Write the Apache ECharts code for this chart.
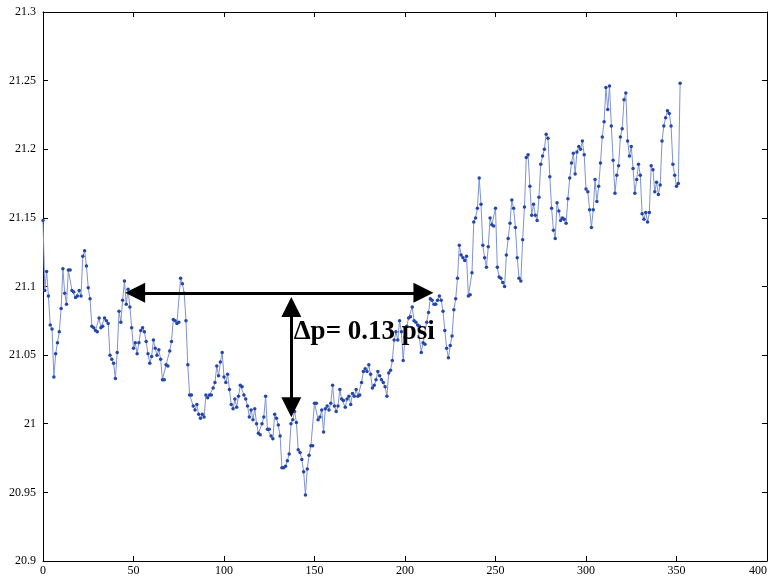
<!DOCTYPE html>
<html>
<head>
<meta charset="utf-8">
<script src="https://cdn.jsdelivr.net/npm/echarts@6/dist/echarts.min.js"></script>
<style>html,body{margin:0;padding:0;background:#fff;}#c{width:774px;height:581px;}</style>
</head>
<body>
<div id="c"></div>
<script>
// Pressure readings (psi), one per sample index starting at 0
var pressure = [
21.148,21.097,21.111,21.093,21.072,21.069,21.034,21.051,21.059,21.067,21.084,21.113,21.095,21.087,21.112,21.112,21.097,21.096,21.092,21.093,21.097,21.093,21.122,21.126,21.115,21.099,21.091,21.071,21.070,21.068,21.067,21.077,21.070,21.071,21.077,21.075,21.073,21.050,21.047,21.044,21.033,21.052,21.082,
21.074,21.090,21.104,21.087,21.098,21.085,21.070,21.055,21.059,21.051,21.059,21.068,21.070,21.067,21.060,21.051,21.044,21.049,21.061,21.055,21.050,21.054,21.047,21.032,21.032,21.043,21.042,21.053,21.060,21.076,21.075,21.073,21.074,21.106,21.102,21.095,21.075,21.043,
21.021,21.021,21.013,21.010,21.014,21.007,21.004,21.007,21.005,21.021,21.019,21.021,21.021,21.026,21.030,21.042,21.035,21.045,21.052,21.034,21.030,21.036,21.025,21.014,21.011,21.018,21.012,21.020,21.028,21.027,21.021,21.018,21.013,21.005,21.010,21.003,21.011,21.000,20.993,20.992,21.000,21.005,
21.020,20.996,
20.996,20.991,20.989,21.007,21.004,20.999,20.991,20.968,20.968,20.969,20.973,20.978,21.000,21.003,21.009,21.001,20.981,20.979,20.974,20.965,20.948,20.967,20.977,20.984,20.984,21.015,21.015,21.003,21.005,21.010,20.994,21.011,21.013,21.010,21.015,21.028,21.013,21.009,21.013,
21.025,21.018,21.017,21.012,21.018,21.020,21.014,21.022,21.020,21.025,21.020,21.021,21.030,21.038,21.040,21.038,21.043,21.036,21.026,21.028,21.032,21.038,21.035,21.032,21.030,21.027,21.020,21.037,21.039,21.046,21.061,21.067,21.061,21.075,21.067,21.046,21.063,21.071,21.077,21.078,21.085,21.075,21.074,21.072,
21.071,21.052,21.059,21.058,21.074,21.081,21.091,21.090,21.087,21.087,21.090,21.093,21.090,21.082,21.068,21.055,21.048,21.057,21.064,21.083,21.091,21.106,21.130,21.123,21.121,21.119,21.122,21.093,21.094,21.110,21.147,21.150,21.157,21.179,21.160,21.130,21.121,21.114,21.129,21.150,
21.145,21.144,
21.157,21.114,21.107,21.106,21.103,21.100,21.123,21.135,21.146,21.163,21.157,21.143,21.121,21.106,21.104,21.134,21.158,21.194,21.196,21.173,21.152,21.160,21.152,21.148,21.165,21.189,21.195,21.200,21.211,21.208,21.180,21.157,21.141,21.135,21.161,21.155,21.148,21.150,21.149,
21.146,21.164,21.179,
21.190,21.197,21.182,21.198,21.202,21.200,21.206,21.196,21.171,21.169,21.156,21.143,21.156,21.178,21.162,21.173,21.190,21.209,21.220,21.245,21.229,21.246,21.217,21.192,21.168,21.181,21.188,21.209,21.215,21.236,21.241,21.206,21.195,21.202,21.186,21.168,21.178,21.189,21.181,
21.153,21.149,21.154,
21.147,21.154,21.188,21.185,21.169,21.176,21.167,21.174,21.206,21.217,21.223,21.228,21.226,21.217,21.189,21.181,21.173,21.175,21.248
];
var xTicks = {min: 0, max: 400, interval: 50};
var yTicks = {min: 20.9, max: 21.3, interval: 0.05};
// Annotation: horizontal span and vertical pressure drop
var spanArrow = [[50.9, 21.0954], [210.2, 21.0954]];
var dropArrow = [[137.2, 21.085], [137.2, 21.012]];
var dropLabel = 'Δp= 0.13 psi';

var seriesData = pressure.map(function (v, i) { return [i, v]; });

var serif = 'Liberation Serif';
var tri = 'path://M5,0L10,10L0,10Z';

var chart = echarts.init(document.getElementById('c'), null, {renderer: 'canvas'});
var axisCommon = {
  axisLine: {show: true, onZero: false, lineStyle: {color: '#000', width: 1}},
  axisTick: {show: true, inside: true, length: 5, lineStyle: {color: '#000'}},
  splitLine: {show: false}
};
chart.setOption({
  animation: false,
  backgroundColor: '#fff',
  grid: {left: 43, right: 7, top: 12, bottom: 20, containLabel: false, outerBoundsMode: 'none'},
  xAxis: [
    Object.assign({type: 'value', position: 'bottom', min: xTicks.min, max: xTicks.max, interval: xTicks.interval,
      axisLabel: {color: '#000', fontFamily: serif, fontSize: 12, margin: 4, alignMaxLabel: 'right'}}, axisCommon),
    Object.assign({type: 'value', position: 'top', min: xTicks.min, max: xTicks.max, interval: xTicks.interval,
      axisLabel: {show: false}}, axisCommon)
  ],
  yAxis: [
    Object.assign({type: 'value', position: 'left', min: yTicks.min, max: yTicks.max, interval: yTicks.interval,
      axisLabel: {color: '#000', fontFamily: serif, fontSize: 12, margin: 7}}, axisCommon),
    Object.assign({type: 'value', position: 'right', min: yTicks.min, max: yTicks.max, interval: yTicks.interval,
      axisLabel: {show: false}}, axisCommon)
  ],
  series: [{
    type: 'line',
    data: seriesData,
    xAxisIndex: 0, yAxisIndex: 0,
    symbol: 'circle',
    symbolSize: 3.5,
    showAllSymbol: true,
    lineStyle: {color: '#7f93d0', width: 1},
    itemStyle: {color: '#2346a8'},
    z: 2,
    markLine: {
      silent: true,
      symbol: [tri, tri],
      symbolSize: [20, 20],
      label: {show: false},
      lineStyle: {color: '#000', width: 3, type: 'solid'},
      z: 5,
      data: [
        [{coord: spanArrow[0]}, {coord: spanArrow[1]}],
        [{coord: dropArrow[0]}, {coord: dropArrow[1]}]
      ]
    },
    markPoint: {
      silent: true,
      symbol: 'rect',
      symbolSize: 0,
      data: [{coord: [138.5, 21.067]}],
      label: {show: true, position: 'right', distance: 0, formatter: dropLabel,
        fontFamily: serif, fontWeight: 'bold', fontSize: 27, color: '#000'}
    }
  }]
});
</script>
</body>
</html>
